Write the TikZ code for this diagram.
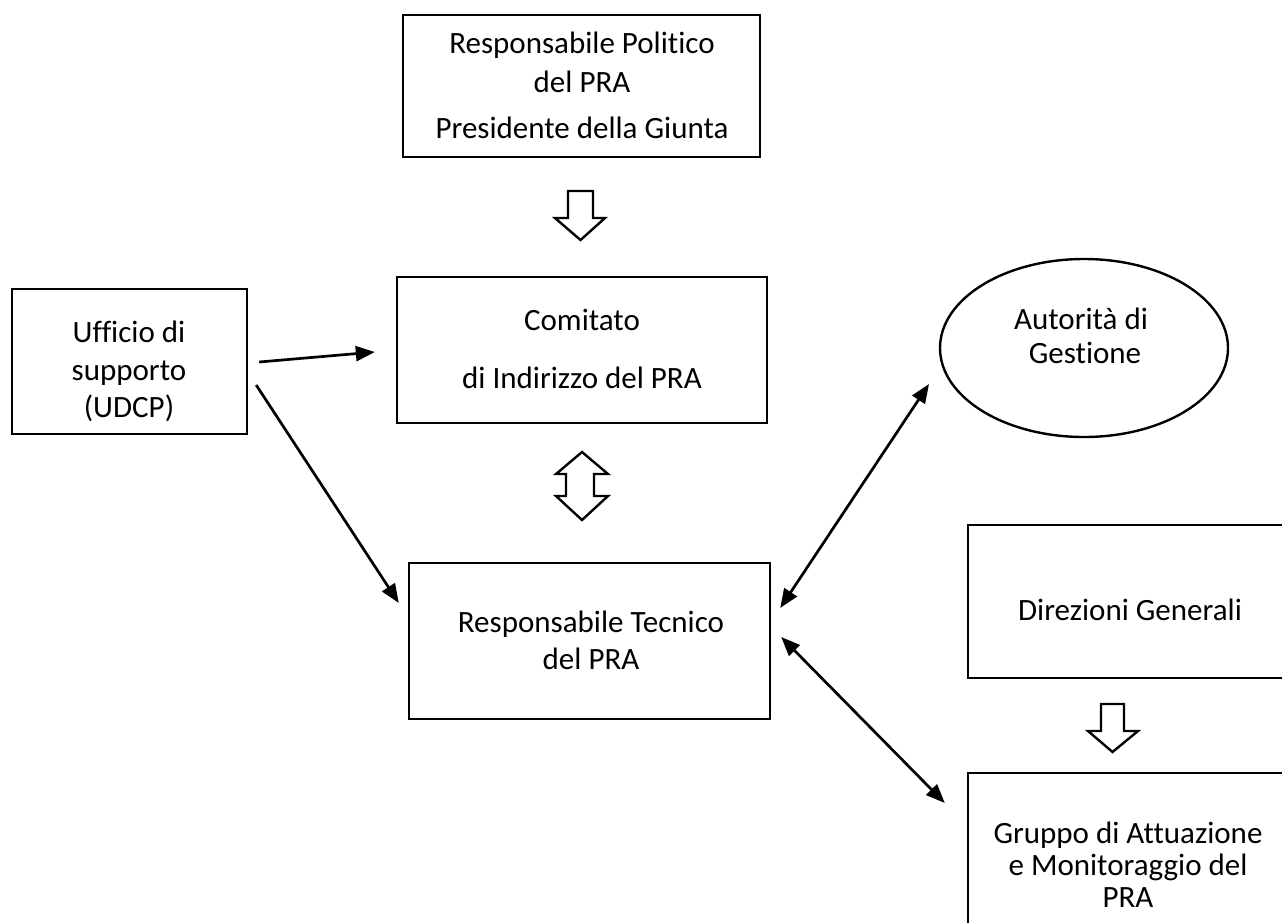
\documentclass[tikz,border=0pt]{standalone}
\usepackage{fontspec}
\setmainfont{Carlito}[Ligatures={NoCommon}]
\usetikzlibrary{arrows.meta,shapes.geometric}
\begin{document}
\begin{tikzpicture}[x=1pt,y=-1pt,
  box/.style={draw=black,line width=2.4pt,inner sep=0pt},
  txt/.style={anchor=base,inner sep=0pt,font=\fontsize{31}{37}\selectfont},
  onearrow/.style={line width=2.7pt,-{Triangle[length=19pt,width=15pt]}},
  twoarrow/.style={line width=2.7pt,{Triangle[length=19pt,width=15pt]}-{Triangle[length=19pt,width=15pt]}},
  fat/.style={draw=black,line width=2.4pt,fill=white,line join=miter}]
\useasboundingbox (0,0) rectangle (1282,922);
\clip (0,0) rectangle (1282,922);
% boxes
\node[box,minimum width=357pt,minimum height=142pt] (pol) at (581.5,86) {};
\node[box,minimum width=235pt,minimum height=145pt] (uff) at (129.5,361.5) {};
\node[box,minimum width=370pt,minimum height=146pt] (com) at (582,350) {};
\node[box,minimum width=361pt,minimum height=156pt] (rt) at (589.5,641) {};
\node[box,ellipse,minimum width=288pt,minimum height=178pt] (adg) at (1084,348) {};
\node[box,minimum width=322pt,minimum height=153pt] (dir) at (1129,601.5) {};
\node[box,minimum width=320pt,minimum height=182pt] (gru) at (1128,864) {};
% texts
\node[txt] (pol1) at (582,53) {Responsabile Politico};
\node[txt] (pol2) at (582,92) {del PRA};
\node[txt] (pol3) at (582,138) {Presidente della Giunta};
\node[txt] (uff1) at (129,342) {Ufficio di};
\node[txt] (uff2) at (129,380) {supporto};
\node[txt] (uff3) at (129,417) {(UDCP)};
\node[txt] (com1) at (582,330) {Comitato};
\node[txt] (com2) at (582,388) {di Indirizzo del PRA};
\node[txt] (rt1) at (591,632) {Responsabile Tecnico};
\node[txt] (rt2) at (591,669) {del PRA};
\node[txt] (adg1) at (1081,329) {Autorità di};
\node[txt] (adg2) at (1085,363) {Gestione};
\node[txt] (dir1) at (1130,620) {Direzioni Generali};
\node[txt] (gru1) at (1128,843) {Gruppo di Attuazione};
\node[txt] (gru2) at (1128,875) {e Monitoraggio del};
\node[txt] (gru3) at (1128,907) {PRA};
% block arrows
\draw[fat] (568,191) -- (593,191) -- (593,218) -- (605,218) -- (580.5,240) -- (555,218) -- (568,218) -- cycle;
\draw[fat] (582,452) -- (608,474) -- (594,474) -- (594,496) -- (608,496) -- (582,520) -- (556,496) -- (566,496) -- (566,474) -- (556,474) -- cycle;
\draw[fat] (1101,704) -- (1124,704) -- (1124,731) -- (1138,731) -- (1112.5,752) -- (1088,731) -- (1101,731) -- cycle;
% connectors
\draw[onearrow] ([shift={(11,0.5)}]uff.east) -- ([shift={(-21,2)}]com.west);
\draw[onearrow] ([shift={(8,23.5)}]uff.east) -- ([shift={(-9,-38)}]rt.west);
\draw[twoarrow] ([shift={(-155,36)}]adg.center) -- ([shift={(9,-33)}]rt.east);
\draw[twoarrow] ([shift={(10,-4)}]rt.east) -- ([shift={(-22,-61)}]gru.west);
\end{tikzpicture}
\end{document}
